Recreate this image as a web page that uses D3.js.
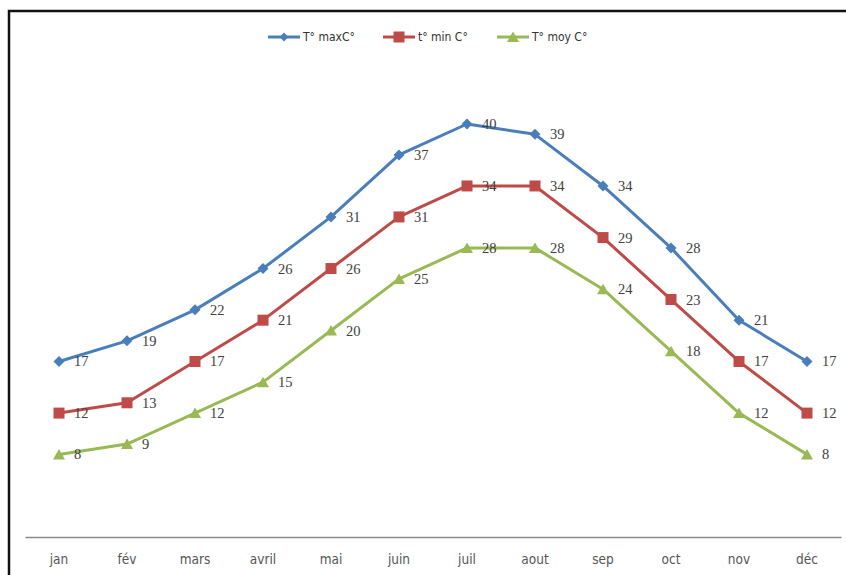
<!DOCTYPE html>
<html><head><meta charset="utf-8">
<script src="https://cdn.jsdelivr.net/npm/d3@7/dist/d3.min.js"></script>
<style>body{margin:0;background:#fff}</style>
</head><body><svg id="c" width="846" height="575"></svg>
<script>
const months = ["jan","fév","mars","avril","mai","juin","juil","aout","sep","oct","nov","déc"];
const tMax = [17,19,22,26,31,37,40,39,34,28,21,17];
const tMin = [12,13,17,21,26,31,34,34,29,23,17,12];
const tMoy = [8,9,12,15,20,25,28,28,24,18,12,8];
const seriesNames = ["T° maxC°","t° min C°","T° moy C°"];

const svg = d3.select("#c");
// frame
svg.append("path").attr("d","M9,575 L9,11 L846,11").attr("fill","none").attr("stroke","#111").attr("stroke-width",2.5);

const x = d3.scaleBand().domain(months).range([25,841]);
const y = d3.scaleLinear().domain([0,40]).range([537,124]);

const series = [
  {name:seriesNames[0], values:tMax, color:"#4A7EBB", marker:"diamond"},
  {name:seriesNames[1], values:tMin, color:"#BE4B48", marker:"square"},
  {name:seriesNames[2], values:tMoy, color:"#98B954", marker:"triangle"}
];

// x axis
const xa = svg.append("g").attr("transform","translate(0,537)").call(d3.axisBottom(x).tickSize(0).tickPadding(17));
xa.select(".domain").attr("stroke","#8a8a8a").attr("stroke-width",1.5);
xa.selectAll("text").attr("font-family","'Liberation Sans Narrow','DejaVu Sans Condensed','Open Sans',sans-serif").attr("font-size",13.5).attr("fill","#555");

function markerPath(type){
  if(type==="diamond") return "M0,-5.5L5.5,0L0,5.5L-5.5,0Z";
  if(type==="square") return "M-5.5,-5.5H5.5V5.5H-5.5Z";
  return "M0,-5.5L6,5L-6,5Z";
}
const line = d3.line().x((d,i)=>x(months[i])+x.bandwidth()/2).y(d=>y(d));

series.forEach(s=>{
  svg.append("path").datum(s.values).attr("d",line).attr("fill","none").attr("stroke",s.color).attr("stroke-width",3).attr("stroke-linejoin","round");
  svg.append("g").selectAll("path").data(s.values).join("path")
    .attr("d",markerPath(s.marker)).attr("fill",s.color)
    .attr("transform",(d,i)=>`translate(${x(months[i])+x.bandwidth()/2},${y(d)})`);
  svg.append("g").selectAll("text").data(s.values).join("text")
    .attr("x",(d,i)=>x(months[i])+x.bandwidth()/2+15).attr("y",d=>y(d)+5)
    .attr("font-family","'Liberation Serif','DejaVu Serif',serif").attr("font-size",14.5).attr("fill","#404040")
    .text(d=>d);
});

// legend
const lx = [268,383,497];
series.forEach((s,i)=>{
  const g = svg.append("g").attr("transform",`translate(${lx[i]},37)`);
  g.append("line").attr("x1",0).attr("x2",32).attr("stroke",s.color).attr("stroke-width",3);
  g.append("path").attr("d",markerPath(s.marker)).attr("fill",s.color).attr("transform","translate(16,0)" + (s.marker==="diamond"?" scale(0.8)":""));
  g.append("text").attr("x",35).attr("y",4).attr("font-family","'Liberation Sans Narrow','DejaVu Sans Condensed','Open Sans',sans-serif").attr("font-size",12).attr("fill","#333").text(s.name);
});
</script></body></html>
